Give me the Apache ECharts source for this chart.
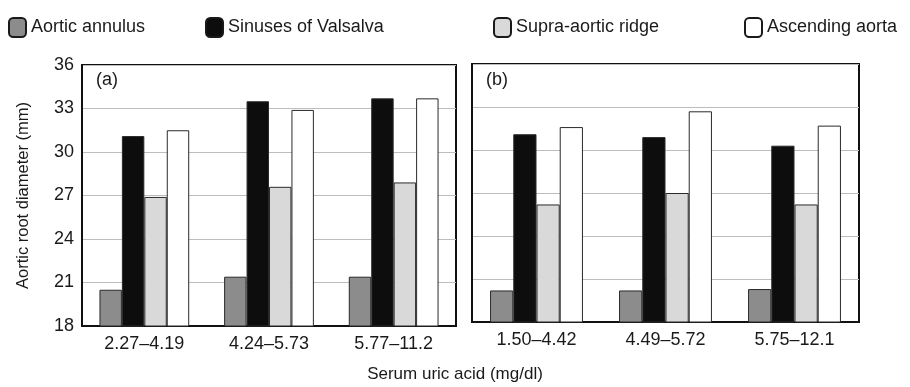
<!DOCTYPE html>
<html>
<head>
<meta charset="utf-8">
<script src="https://cdn.jsdelivr.net/npm/echarts@6/dist/echarts.min.js"></script>
<style>
html,body{margin:0;padding:0;background:#fff;}
#chart{width:910px;height:387px;}
</style>
</head>
<body>
<div id="chart"></div>
<script>
const seriesNames = ['Aortic annulus', 'Sinuses of Valsalva', 'Supra-aortic ridge', 'Ascending aorta'];
const categoriesA = ['2.27–4.19', '4.24–5.73', '5.77–11.2'];
const categoriesB = ['1.50–4.42', '4.49–5.72', '5.75–12.1'];
const annulusA = [20.5, 21.4, 21.4];
const sinusA = [31.1, 33.5, 33.7];
const supraA = [26.9, 27.6, 27.9];
const ascendingA = [31.5, 32.9, 33.7];
const annulusB = [20.2, 20.2, 20.3];
const sinusB = [31.1, 30.9, 30.3];
const supraB = [26.2, 27.0, 26.2];
const ascendingB = [31.6, 32.7, 31.7];
const yTicks = [18, 21, 24, 27, 30, 33, 36];

const colors = ['#8c8c8c', '#0d0d0d', '#d9d9d9', '#ffffff'];
const FONT = '"Liberation Sans", Arial, sans-serif';
const dataA = [annulusA, sinusA, supraA, ascendingA];
const dataB = [annulusB, sinusB, supraB, ascendingB];

const chart = echarts.init(document.getElementById('chart'), null, {renderer: 'canvas'});

function yAxis(gridIndex, showLabels) {
  return {
    type: 'value', gridIndex: gridIndex,
    min: yTicks[0], max: yTicks[yTicks.length - 1], interval: 3,
    axisLine: {show: true, lineStyle: {color: '#111', width: 2}},
    axisTick: {show: false},
    axisLabel: {show: showLabels, fontFamily: FONT, fontSize: 18, color: '#1a1a1a', margin: 8},
    splitLine: {show: true, lineStyle: {color: '#bdbdbd', width: 1}},
    name: showLabels ? 'Aortic root diameter (mm)' : '',
    nameLocation: 'middle', nameGap: 50,
    nameTextStyle: {fontFamily: FONT, fontSize: 16.5, color: '#1a1a1a'}
  };
}
function xAxis(gridIndex, cats) {
  return {
    type: 'category', gridIndex: gridIndex, data: cats,
    axisLine: {show: true, lineStyle: {color: '#111', width: 2}},
    axisTick: {show: false},
    axisLabel: {fontFamily: FONT, fontSize: 18, color: '#1a1a1a', margin: 9}
  };
}
const series = [];
seriesNames.forEach(function (name, i) {
  series.push({
    name: name, type: 'bar', xAxisIndex: 0, yAxisIndex: 0, data: dataA[i],
    barGap: '0%', barCategoryGap: '28%',
    itemStyle: {color: colors[i], borderColor: '#2a2a2a', borderWidth: 1}
  });
});
seriesNames.forEach(function (name, i) {
  series.push({
    name: name, type: 'bar', xAxisIndex: 1, yAxisIndex: 1, data: dataB[i],
    barGap: '0%', barCategoryGap: '28%',
    itemStyle: {color: colors[i], borderColor: '#2a2a2a', borderWidth: 1}
  });
});
const legendLefts = [8, 205, 493, 744];
const legends = seriesNames.map(function (name, i) {
  return {
    data: [name], left: legendLefts[i], top: 17, padding: 0,
    icon: 'roundRect', itemWidth: 17, itemHeight: 19, itemGap: 6,
    itemStyle: {borderColor: '#1a1a1a', borderWidth: 2},
    textStyle: {fontFamily: FONT, fontSize: 18, color: '#1a1a1a'},
    selectedMode: false
  };
});
chart.setOption({
  animation: false,
  backgroundColor: '#ffffff',
  legend: legends,
  grid: [
    {left: 82, top: 65, width: 374, height: 261, show: true, borderColor: '#111', borderWidth: 2, backgroundColor: 'transparent'},
    {left: 472, top: 64, width: 387, height: 258, show: true, borderColor: '#111', borderWidth: 2, backgroundColor: 'transparent'}
  ],
  xAxis: [xAxis(0, categoriesA), xAxis(1, categoriesB)],
  yAxis: [yAxis(0, true), yAxis(1, false)],
  series: series,
  graphic: [
    {type: 'text', left: 96, top: 71, style: {text: '(a)', fontFamily: FONT, fontSize: 18, fill: '#1a1a1a'}},
    {type: 'text', left: 486, top: 71, style: {text: '(b)', fontFamily: FONT, fontSize: 18, fill: '#1a1a1a'}},
    {type: 'text', left: 'center', top: 366, style: {text: 'Serum uric acid (mg/dl)', fontFamily: FONT, fontSize: 17, fill: '#1a1a1a'}}
  ]
});
</script>
</body>
</html>
